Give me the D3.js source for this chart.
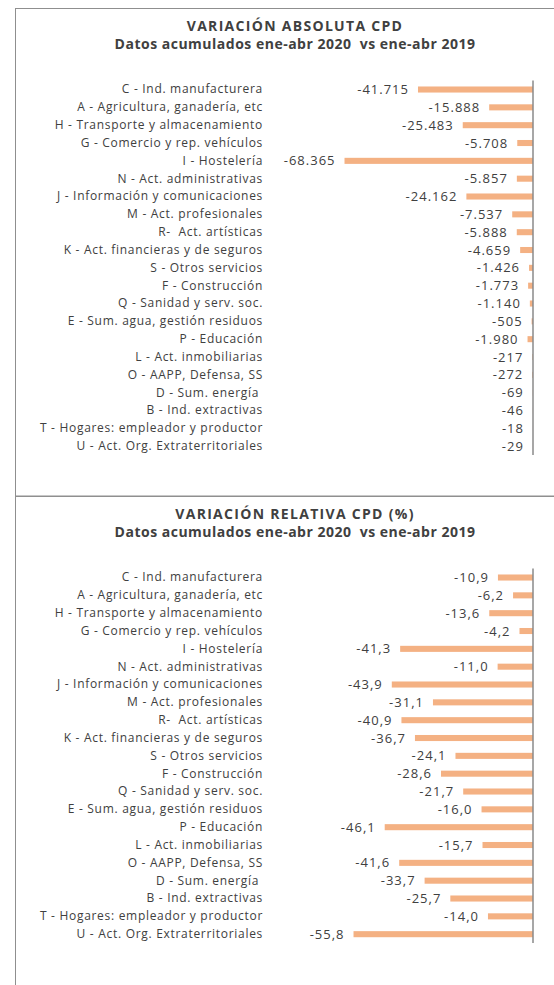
<!DOCTYPE html>
<html>
<head>
<meta charset="utf-8">
<script src="https://cdn.jsdelivr.net/npm/d3@7"></script>
<style>
  body { margin: 0; background: #fff; }
  svg { display: block; }
  text { font-family: "Open Sans", sans-serif; fill: #404040; white-space: pre; }
</style>
</head>
<body>
<div class="graph_container"></div>
<script>
const w = 554;
const h = 985;

const categories = [
  "C - Ind. manufacturera",
  "A - Agricultura, ganadería, etc",
  "H - Transporte y almacenamiento",
  "G - Comercio y rep. vehículos",
  "I - Hostelería",
  "N - Act. administrativas",
  "J - Información y comunicaciones",
  "M - Act. profesionales",
  "R-  Act. artísticas",
  "K - Act. financieras y de seguros",
  "S - Otros servicios",
  "F - Construcción",
  "Q - Sanidad y serv. soc.",
  "E - Sum. agua, gestión residuos",
  "P - Educación",
  "L - Act. inmobiliarias",
  "O - AAPP, Defensa, SS",
  "D - Sum. energía ",
  "B - Ind. extractivas",
  "T - Hogares: empleador y productor",
  "U - Act. Org. Extraterritoriales"
];

const absValues = [-41715, -15888, -25483, -5708, -68365, -5857, -24162, -7537, -5888, -4659,
  -1426, -1773, -1140, -505, -1980, -217, -272, -69, -46, -18, -29];

const relValues = [-10.9, -6.2, -13.6, -4.2, -41.3, -11.0, -43.9, -31.1, -40.9, -36.7,
  -24.1, -28.6, -21.7, -16.0, -46.1, -15.7, -41.6, -33.7, -25.7, -14.0, -55.8];

const titles = ["VARIACIÓN ABSOLUTA CPD", "VARIACIÓN RELATIVA CPD (%)"];
const subtitle = "Datos acumulados ene-abr 2020  vs ene-abr 2019";

const es = d3.formatLocale({decimal: ",", thousands: ".", grouping: [3], currency: ["", " €"], minus: "-"});

const svg = d3.select(".graph_container").append("svg").attr("width", w).attr("height", h);

const barColor = "#f4b183";
const axisX = 533;
const labelX = 263;

function drawPanel(top, boxH, title, values, minVal, fmt) {
  var g = svg.append("g");

  // chart border (runs off the right edge like the screenshot)
  g.append("rect")
    .attr("x", 15.5)
    .attr("y", top + 0.5)
    .attr("width", 620)
    .attr("height", boxH)
    .attr("fill", "none")
    .attr("stroke", "#8f8f8f")
    .attr("stroke-width", 1);

  g.append("text")
    .attr("x", 295)
    .attr("y", top + 18)
    .attr("dy", ".35em")
    .attr("text-anchor", "middle")
    .attr("font-size", 14)
    .attr("font-weight", "bold")
    .attr("letter-spacing", 1.3)
    .text(title);

  g.append("text")
    .attr("x", 295)
    .attr("y", top + 36)
    .attr("dy", ".35em")
    .attr("text-anchor", "middle")
    .attr("font-size", 14)
    .attr("font-weight", "bold")
    .attr("letter-spacing", 0.5)
    .text(subtitle);

  var xScale = d3.scaleLinear().domain([minVal, 0]).range([340, axisX]);
  var yScale = d3.scaleBand().domain(categories)
    .range([top + 72.6, top + 447.1])
    .paddingInner(0.66).paddingOuter(0.33);

  g.selectAll("rect.bar")
    .data(values)
    .enter()
    .append("rect")
    .attr("class", "bar")
    .attr("x", d => xScale(d))
    .attr("y", (d, i) => yScale(categories[i]))
    .attr("width", d => xScale(0) - xScale(d))
    .attr("height", yScale.bandwidth())
    .attr("fill", barColor);

  g.selectAll("text.value")
    .data(values)
    .enter()
    .append("text")
    .attr("class", "value")
    .attr("x", d => xScale(d) - 9)
    .attr("y", (d, i) => yScale(categories[i]) + yScale.bandwidth() / 2)
    .attr("dy", ".35em")
    .attr("text-anchor", "end")
    .attr("font-size", 13)
    .attr("letter-spacing", 1)
    .text(d => fmt(d));

  var yAxis = d3.axisLeft(yScale).tickSize(0).tickSizeOuter(0).tickPadding(axisX - labelX);

  var ax = g.append("g")
    .attr("transform", "translate(" + axisX + ",0)")
    .call(yAxis);

  // align axis line with full category range
  ax.select(".domain")
    .attr("d", "M0," + (top + 72.6) + "V" + (top + 447.1))
    .attr("stroke", "#8a8a8a")
    .attr("stroke-width", 1.5);

  ax.selectAll("text")
    .attr("font-family", "'Open Sans', sans-serif")
    .attr("font-size", 12)
    .attr("letter-spacing", 0.7)
    .attr("fill", "#404040");
}

drawPanel(8, 487.5, titles[0], absValues, -70000, es.format(",d"));
drawPanel(496, 600, titles[1], relValues, -60, es.format(".1f"));
</script>
</body>
</html>
